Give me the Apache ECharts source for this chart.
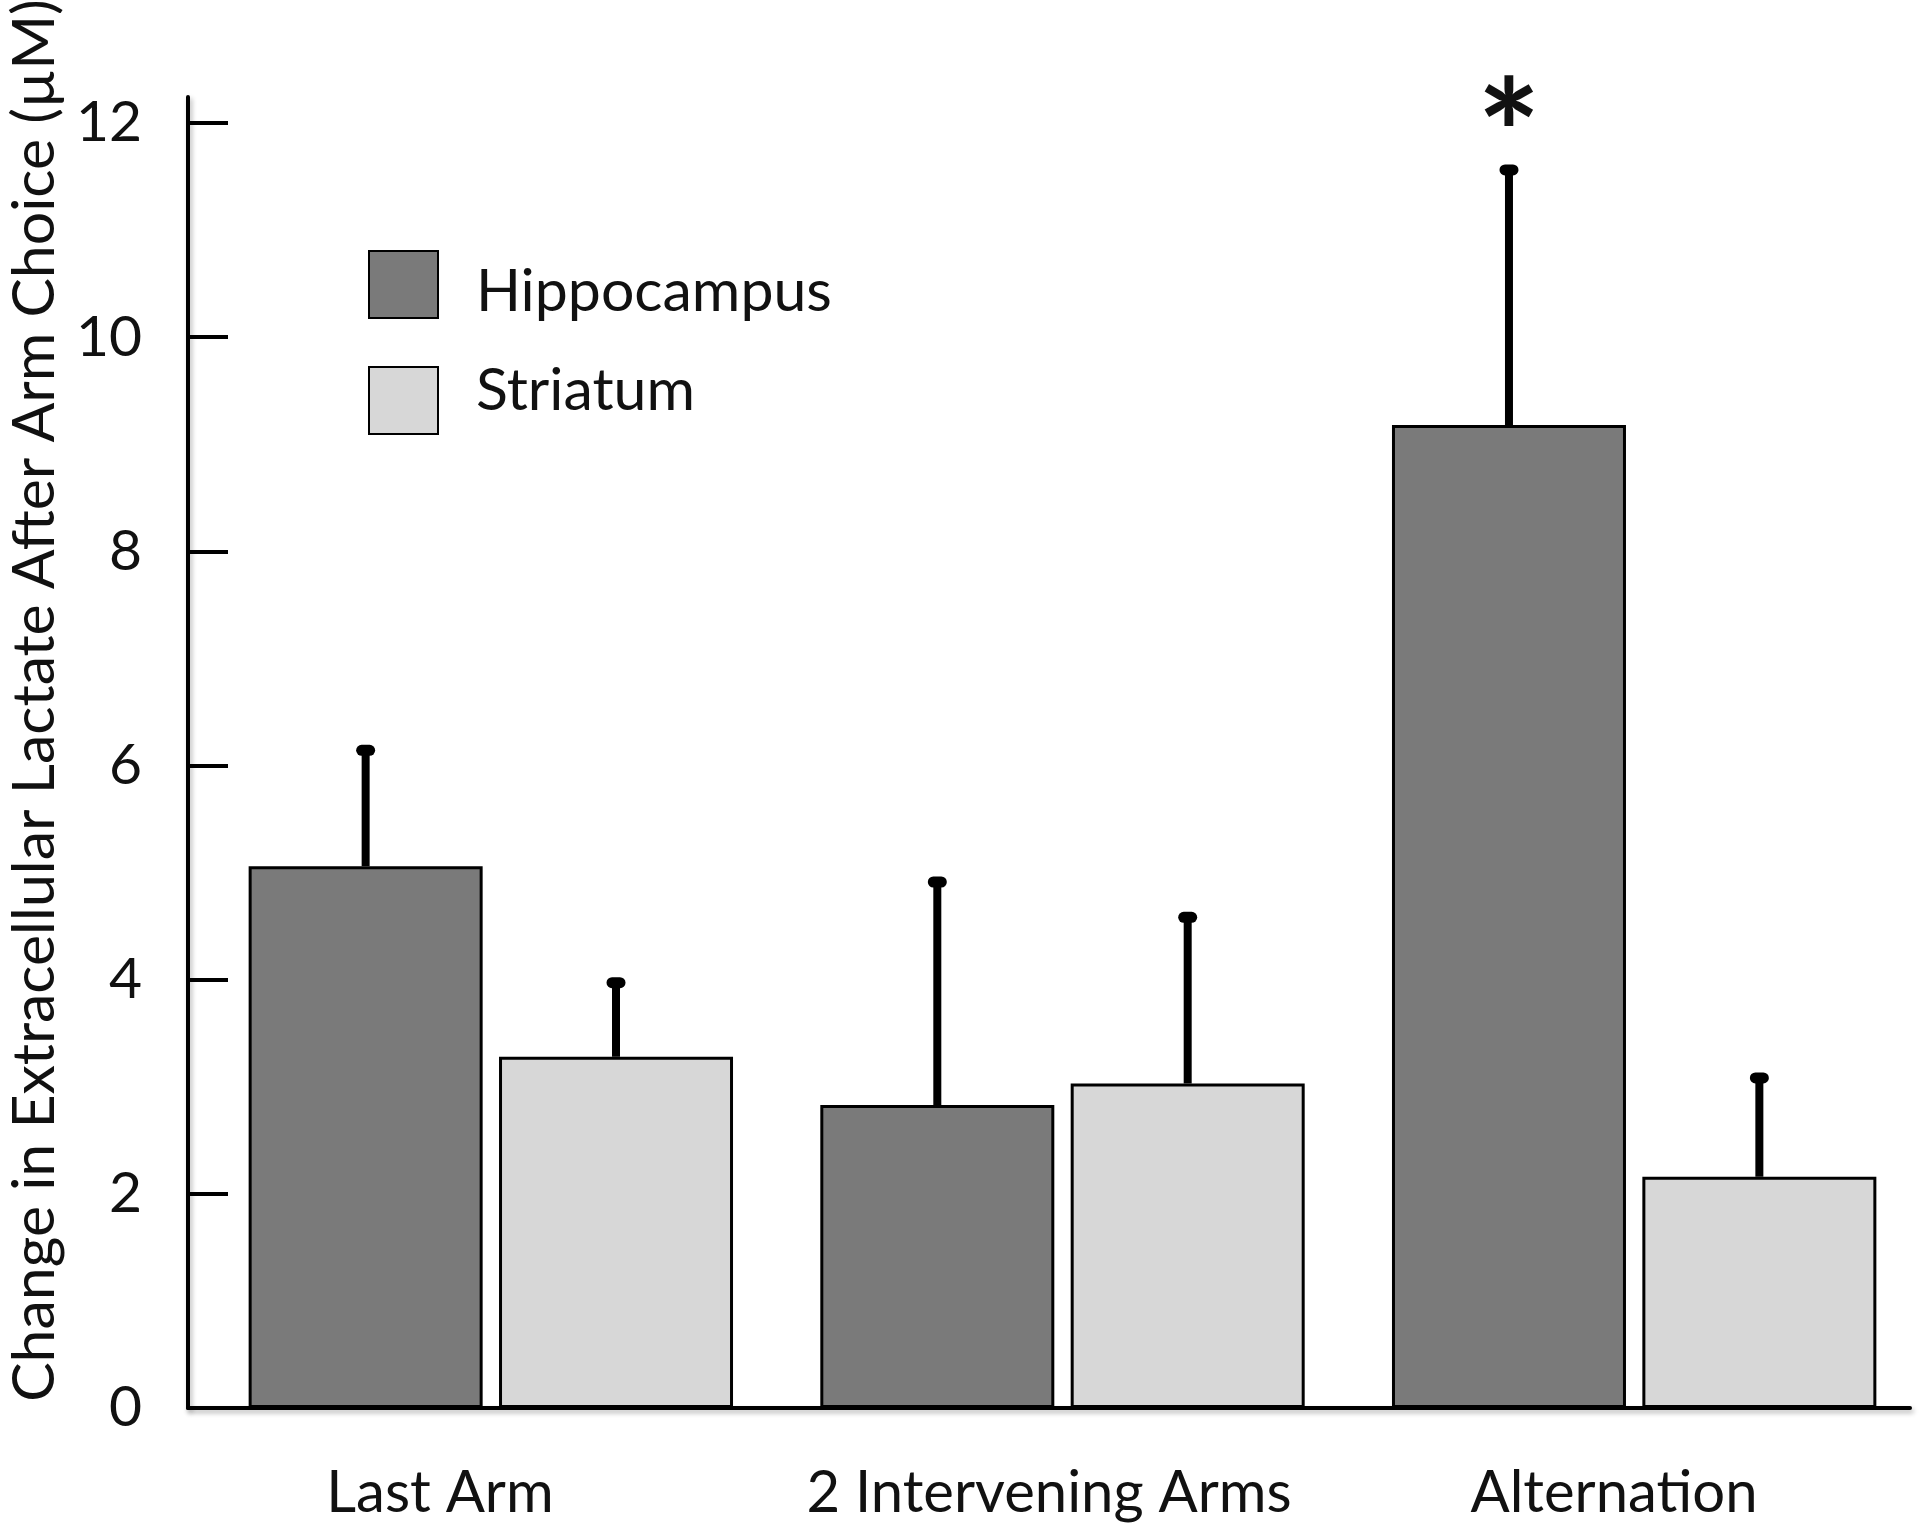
<!DOCTYPE html>
<html>
<head>
<meta charset="utf-8">
<script src="https://cdn.jsdelivr.net/npm/echarts@6/dist/echarts.min.js"></script>
<style>
  html, body { margin: 0; padding: 0; background: #fff; }
  #chart { width: 1920px; height: 1531px; }
</style>
</head>
<body>
<div id="chart"></div>
<script>
// ---- data ----
const categories = ['Last Arm', '2 Intervening Arms', 'Alternation'];
const seriesNames = ['Hippocampus', 'Striatum'];
const hippocampus = [5.06, 2.83, 9.18];
const hippocampusSem = [1.11, 2.11, 2.41];
const striatum = [3.28, 3.03, 2.16];
const striatumSem = [0.72, 1.58, 0.95];
const hippocampusSig = ['', '', '*'];
const striatumSig = ['', '', ''];
const yMin = 0, yMax = 12, yInterval = 2;
const yName = 'Change in Extracellular Lactate After Arm Choice (µM)';

// ---- styles ----
const FONT = 'Lato';
const HIPPO_COLOR = '#7a7a7a';
const STRI_COLOR = '#d7d7d7';
const BAR_W = 234;
const BAR_GAP = 0.07;
const SHIFT = (BAR_W * (1 + BAR_GAP)) / 2;
const axisShadow = { shadowColor: 'rgba(0,0,0,0.28)', shadowBlur: 5, shadowOffsetX: 2, shadowOffsetY: 3 };

function errorSeries(values, sems, sigs, sign) {
  return {
    type: 'custom',
    xAxisIndex: 1, yAxisIndex: 1,
    silent: true,
    z: 5,
    data: values.map((v, i) => [i, v, sems[i], i]),
    renderItem: function (params, api) {
      const i = api.value(3);
      const base = api.coord([api.value(0), api.value(1)]);
      const top = api.coord([api.value(0), api.value(1) + api.value(2)]);
      const cx = base[0] + sign * SHIFT;
      const children = [
        { type: 'line', shape: { x1: cx, y1: base[1], x2: cx, y2: top[1] + 2 },
          style: { stroke: '#000', lineWidth: 8 } },
        { type: 'line', shape: { x1: cx - 4, y1: top[1] + 3, x2: cx + 4, y2: top[1] + 3 },
          style: { stroke: '#000', lineWidth: 11, lineCap: 'round' } }
      ];
      if (sigs[i]) {
        children.push({ type: 'text', style: { text: sigs[i], x: cx, y: top[1] - 26,
          align: 'center', verticalAlign: 'middle', font: 'bold 150px ' + FONT, fill: '#111' } });
      }
      return { type: 'group', children: children };
    }
  };
}

const chart = echarts.init(document.getElementById('chart'), null, { renderer: 'canvas' });
chart.setOption({
  backgroundColor: '#fff',
  animation: false,
  textStyle: { fontFamily: FONT },
  grid: [
    { left: 188, right: 10, top: 97, bottom: 123, outerBoundsMode: 'none', containLabel: false },
    { left: 205, right: 0, top: 123, bottom: 123, outerBoundsMode: 'none', containLabel: false }
  ],
  legend: {
    data: seriesNames,
    orient: 'vertical',
    left: 363, top: 245,
    itemWidth: 69, itemHeight: 67, itemGap: 40,
    icon: 'rect',
    selectedMode: false,
    formatter: function (name) { return name === seriesNames[0] ? '{h|' + name + '}' : '{s|' + name + '}'; },
    textStyle: {
      fontFamily: FONT, fontSize: 59, color: '#111', padding: [0, 0, 0, 33],
      rich: {
        h: { fontFamily: FONT, fontSize: 59, color: '#111', padding: [14, 0, 0, 0] },
        s: { fontFamily: FONT, fontSize: 59, color: '#111', padding: [0, 0, 20, 0] }
      }
    }
  },
  xAxis: [
    {
      gridIndex: 0, type: 'category', data: categories,
      axisLine: { lineStyle: Object.assign({ color: '#000', width: 4 }, axisShadow) },
      axisTick: { show: false },
      axisLabel: {
        margin: 56,
        formatter: function (v, i) { return '{c' + i + '|' + v + '}'; },
        rich: {
          c0: { fontFamily: FONT, fontSize: 58, color: '#111', padding: [0, 70, 0, 0] },
          c1: { fontFamily: FONT, fontSize: 58, color: '#111' },
          c2: { fontFamily: FONT, fontSize: 58, color: '#111', padding: [0, 18, 0, 0] }
        }
      }
    },
    { gridIndex: 1, type: 'category', data: categories, show: false }
  ],
  yAxis: [
    {
      gridIndex: 0, type: 'value', min: 0, max: 1,
      axisLine: { show: true, lineStyle: Object.assign({ color: '#000', width: 4 }, axisShadow) },
      axisTick: { show: false }, axisLabel: { show: false }, splitLine: { show: false }
    },
    {
      gridIndex: 1, type: 'value', min: yMin, max: yMax, interval: yInterval,
      offset: 17,
      axisLine: { show: false },
      axisTick: { show: true, inside: true, length: 40, lineStyle: { color: '#000', width: 4 } },
      axisLabel: { margin: 46, fontFamily: FONT, fontSize: 57, color: '#111' },
      splitLine: { show: false },
      name: yName,
      nameLocation: 'middle',
      nameRotate: 90,
      nameGap: 124,
      nameTextStyle: { fontFamily: FONT, fontSize: 59, color: '#111', padding: [0, 0, 0, 130] }
    }
  ],
  series: [
    {
      name: seriesNames[0], type: 'bar', xAxisIndex: 1, yAxisIndex: 1,
      data: hippocampus, barWidth: BAR_W, barGap: (BAR_GAP * 100) + '%',
      itemStyle: { color: HIPPO_COLOR, borderColor: '#000', borderWidth: 3 }
    },
    {
      name: seriesNames[1], type: 'bar', xAxisIndex: 1, yAxisIndex: 1,
      data: striatum, barWidth: BAR_W,
      itemStyle: { color: STRI_COLOR, borderColor: '#000', borderWidth: 3 }
    },
    errorSeries(hippocampus, hippocampusSem, hippocampusSig, -1),
    errorSeries(striatum, striatumSem, striatumSig, 1)
  ]
});
</script>
</body>
</html>
